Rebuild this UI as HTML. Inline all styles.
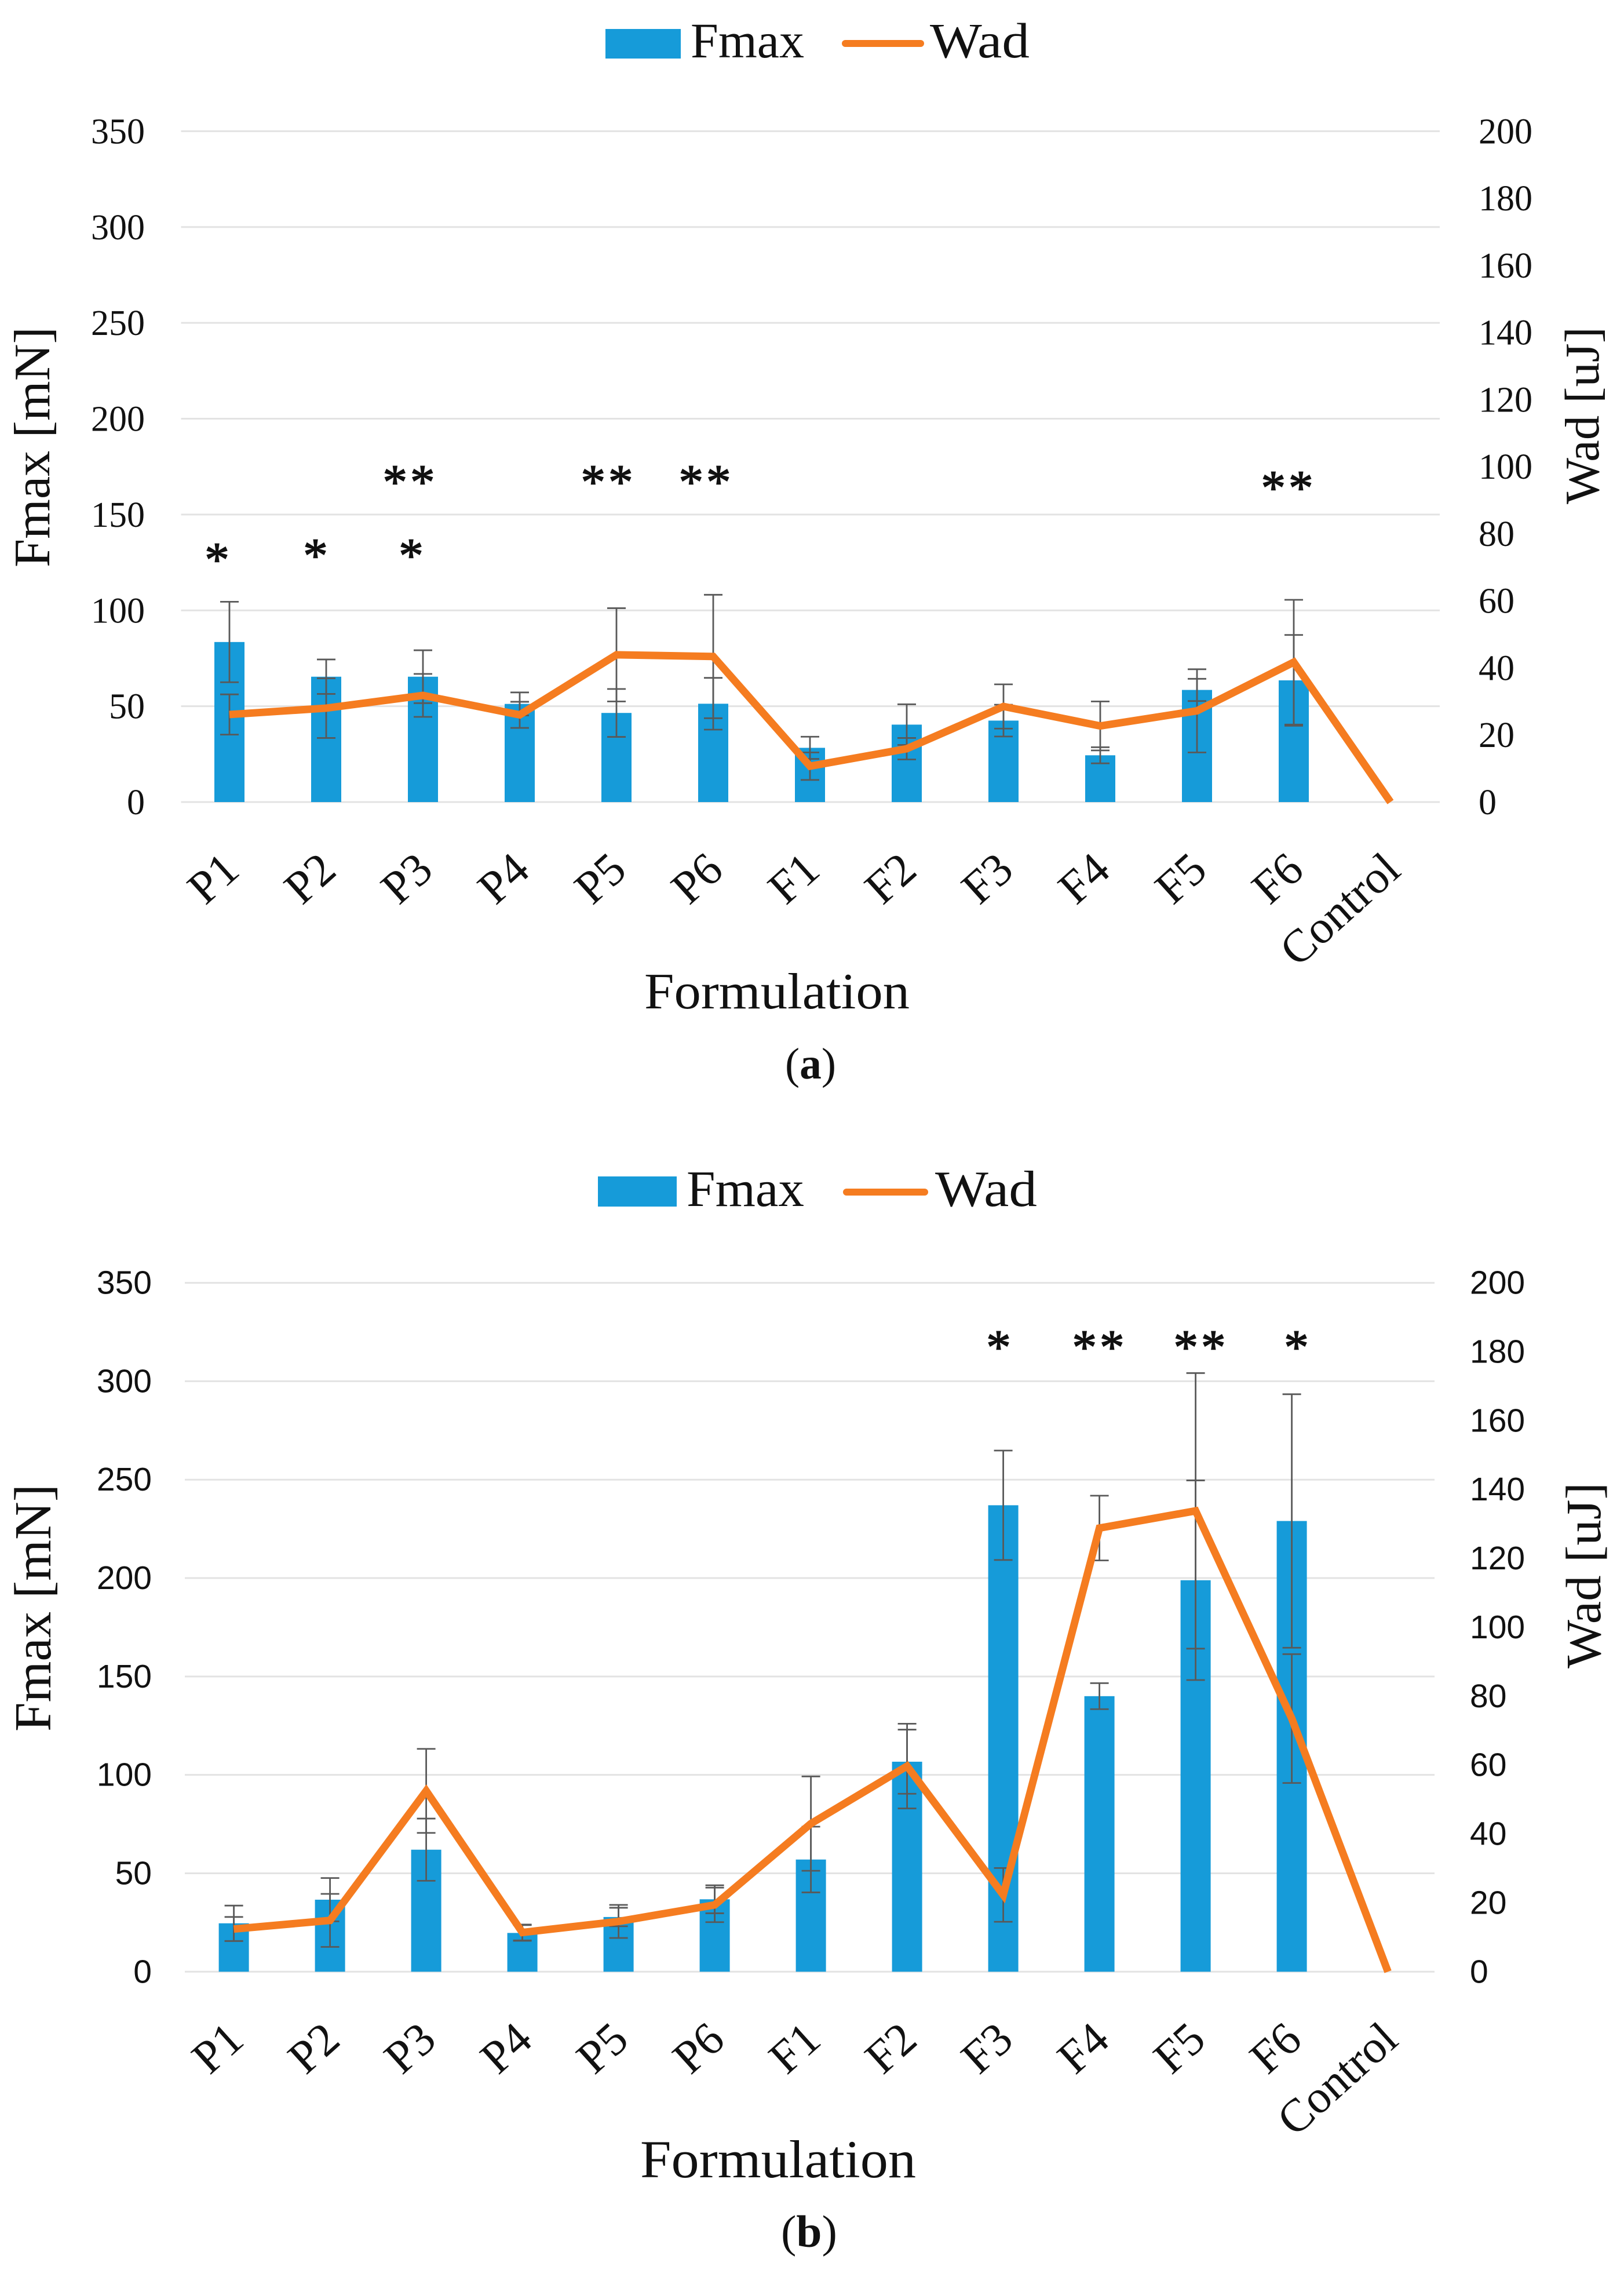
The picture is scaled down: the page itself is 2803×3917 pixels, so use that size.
<!DOCTYPE html>
<html lang="en">
<head>
<meta charset="utf-8">
<title>Fmax and Wad by formulation</title>
<style>
html,body{margin:0;padding:0;background:#fff;}
svg{display:block;}
text{font-family:"Liberation Serif",serif;fill:#111;}
</style>
</head>
<body>
<svg id="figure" xmlns="http://www.w3.org/2000/svg" width="2803" height="3917" viewBox="0 0 2803 3917">
  <rect x="0" y="0" width="2803" height="3917" fill="#ffffff"/>

  <g id="chart-a">
    <g id="chart-a-plot"></g>
    <g>
      <rect x="1045" y="50" width="130" height="51" fill="#169BD9"/>
      <text x="1192" y="99" font-size="86" textLength="196" lengthAdjust="spacingAndGlyphs">Fmax</text>
      <line x1="1459" y1="75" x2="1589" y2="75" stroke="#F57C20" stroke-width="12" stroke-linecap="round"/>
      <text x="1605" y="99" font-size="86" textLength="172" lengthAdjust="spacingAndGlyphs">Wad</text>
    </g>
    <text transform="translate(85,979) rotate(-90)" font-size="88" textLength="415" lengthAdjust="spacingAndGlyphs">Fmax [mN]</text>
    <text transform="translate(2759,870) rotate(-90)" font-size="84" textLength="306" lengthAdjust="spacingAndGlyphs">Wad [uJ]</text>
    <text x="1112" y="1740" font-size="88" textLength="458" lengthAdjust="spacingAndGlyphs">Formulation</text>
    <text x="1355" y="1861" font-size="76" textLength="88" lengthAdjust="spacingAndGlyphs">(<tspan font-weight="bold">a</tspan>)</text>
    <g font-size="85" letter-spacing="5" text-anchor="middle" stroke="#111" stroke-width="1.6">
      <text x="377" y="994">*</text>
      <text x="547" y="987">*</text>
      <text x="712" y="987">*</text>
      <text x="708" y="860">**</text>
      <text x="1050" y="860">**</text>
      <text x="1219" y="860">**</text>
      <text x="2224" y="870">**</text>
    </g>
  </g>

  <g id="chart-b">
    <g id="chart-b-plot"></g>
    <g>
      <rect x="1032" y="2030" width="136" height="52" fill="#169BD9"/>
      <text x="1185" y="2081" font-size="88" textLength="203" lengthAdjust="spacingAndGlyphs">Fmax</text>
      <line x1="1461" y1="2057" x2="1596" y2="2057" stroke="#F57C20" stroke-width="12" stroke-linecap="round"/>
      <text x="1614" y="2081" font-size="88" textLength="176" lengthAdjust="spacingAndGlyphs">Wad</text>
    </g>
    <text transform="translate(87,2988) rotate(-90)" font-size="90" textLength="427" lengthAdjust="spacingAndGlyphs">Fmax [mN]</text>
    <text transform="translate(2762,2879) rotate(-90)" font-size="86" textLength="321" lengthAdjust="spacingAndGlyphs">Wad [uJ]</text>
    <text x="1105" y="3757" font-size="92" textLength="476" lengthAdjust="spacingAndGlyphs">Formulation</text>
    <text x="1348" y="3877" font-size="78" textLength="97" lengthAdjust="spacingAndGlyphs">(<tspan font-weight="bold">b</tspan>)</text>
    <g font-size="85" letter-spacing="5" text-anchor="middle" stroke="#111" stroke-width="1.6">
      <text x="1726" y="2353">*</text>
      <text x="1898" y="2353">**</text>
      <text x="2073" y="2353">**</text>
      <text x="2240" y="2353">*</text>
    </g>
  </g>
</svg>

<script>
const categories = ['P1','P2','P3','P4','P5','P6','F1','F2','F3','F4','F5','F6','Control'];
const fmaxTicks = [0,50,100,150,200,250,300,350];
const wadTicks = [0,20,40,60,80,100,120,140,160,180,200];

const fmaxA    = [83.5,65.4,65.4,51.2,46.5,51.3,28.3,40.4,42.5,24.4,58.5,63.5,0];
const fmaxErrA = [21,9,13.8,6,12.5,13.5,5.8,10.6,8.3,4.2,5.8,23.7,0];
const wadA     = [26.1,28,31.8,26,43.9,43.4,10.7,15.9,28.5,22.7,27.2,41.7,0];
const wadErrA  = [6,8.9,6.4,3.9,13.9,18.4,4.1,3.2,6.6,7.3,12.4,18.6,0];

const fmaxB    = [24.6,36.6,62,19.7,27.8,36.8,57,106.7,237,140,198.9,229,0];
const fmaxErrB = [9,11,15.8,4,4.7,7.1,16.7,16.3,27.8,6.6,50.7,64.4,0];
const wadB     = [12.4,14.9,52.5,11.4,14.6,19.4,43,59.7,22.3,128.8,133.8,73.5,0];
const wadErrB  = [3.5,7.7,12.2,2.3,4.8,5,13.7,12.3,7.8,9.4,40,18.7,0];

const SVG_NS = 'http://www.w3.org/2000/svg';

function make(parent, tag, attrs) {
  const node = document.createElementNS(SVG_NS, tag);
  for (const key in attrs) node.setAttribute(key, attrs[key]);
  parent.appendChild(node);
  return node;
}

function drawChart(opts) {
  const host = document.getElementById(opts.hostId);
  const yFmax = v => opts.bottom - v * (opts.bottom - opts.top) / 350;
  const yWad = v => opts.bottom - v * (opts.bottom - opts.top) / 200;
  const xCat = i => opts.firstCenter + opts.step * i;

  fmaxTicks.forEach(t => {
    const grid = make(host, 'line', {x1: opts.left, x2: opts.right, y1: yFmax(t), y2: yFmax(t), stroke: '#E3E3E3', 'stroke-width': 3});
    
    
    const label = make(host, 'text', {x: opts.leftLabelX, y: yFmax(t) + opts.tickDy, 'text-anchor': 'end', 'font-size': opts.tickSize, style: 'font-family:' + opts.tickFont});
    label.textContent = String(t);
    
    
  });

  wadTicks.forEach(t => {
    const label = make(host, 'text', {x: opts.rightLabelX, y: yWad(t) + opts.tickDy, 'text-anchor': 'start', 'font-size': opts.tickSize, style: 'font-family:' + opts.tickFont});
    label.textContent = String(t);
    
    
  });

  categories.forEach((c, i) => {
    const bar = make(host, 'rect', {x: xCat(i) - 26, y: yFmax(opts.fmax[i]), width: 52, height: opts.bottom - yFmax(opts.fmax[i]), fill: '#169BD9'});
    
    

    const label = make(host, 'text', {'text-anchor': 'end', 'font-size': 80, transform: 'translate(' + (xCat(i) + 21) + ',' + (opts.bottom + 123) + ') rotate(-42)'});
    label.textContent = c;
    
    
  });

  function drawErrors(values, errors, yScale, seriesName) {
    categories.forEach((c, i) => {
      if (!errors[i]) return;
      const hi = yScale(values[i] + errors[i]);
      const lo = yScale(values[i] - errors[i]);
      const x = xCat(i);
      const err = make(host, 'path', {
        d: 'M' + x + ' ' + hi + 'V' + lo + 'M' + (x - 16) + ' ' + hi + 'H' + (x + 16) + 'M' + (x - 16) + ' ' + lo + 'H' + (x + 16),
        fill: 'none', stroke: '#595959', 'stroke-width': 2.8
      });
      
      
    });
  }
  drawErrors(opts.fmax, opts.fmaxErr, yFmax, 'fmax');
  drawErrors(opts.wad, opts.wadErr, yWad, 'wad');

  const pts = opts.wad.map((v, i) => xCat(i) + ',' + yWad(v)).join(' ');
  const line = make(host, 'polyline', {points: pts, fill: 'none', stroke: '#F57C20', 'stroke-width': 13, 'stroke-linejoin': 'miter', 'stroke-linecap': 'butt'});
  
  
}

drawChart({
  hostId: 'chart-a-plot', left: 312.5, right: 2485, top: 226.4, bottom: 1384,
  firstCenter: 396, step: 167, leftLabelX: 250, rightLabelX: 2552,
  tickSize: 62, tickDy: 21, tickFont: '"Liberation Serif",serif',
  fmax: fmaxA, fmaxErr: fmaxErrA, wad: wadA, wadErr: wadErrA
});
drawChart({
  hostId: 'chart-b-plot', left: 319, right: 2476, top: 2213.6, bottom: 3402.3,
  firstCenter: 403.6, step: 166, leftLabelX: 262, rightLabelX: 2537,
  tickSize: 57, tickDy: 19, tickFont: '"Liberation Sans",sans-serif',
  fmax: fmaxB, fmaxErr: fmaxErrB, wad: wadB, wadErr: wadErrB
});
</script>
</body>
</html>
